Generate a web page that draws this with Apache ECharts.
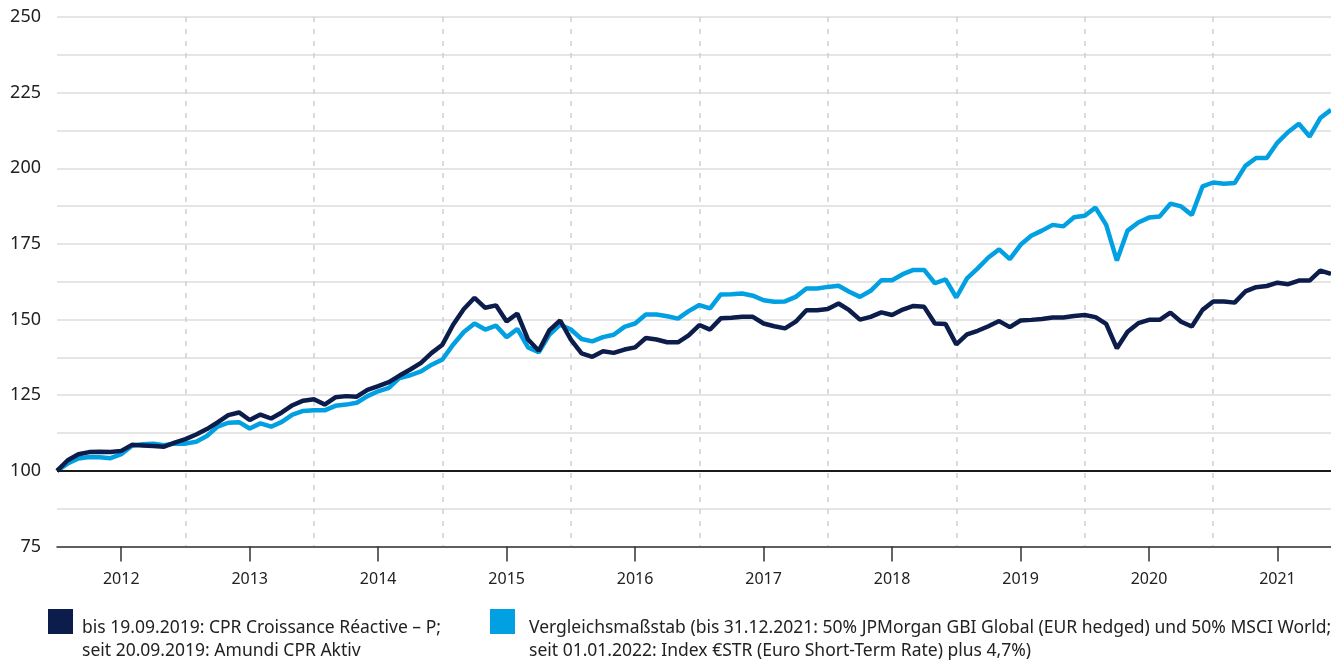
<!DOCTYPE html>
<html>
<head>
<meta charset="utf-8">
<script src="https://cdn.jsdelivr.net/npm/echarts@6/dist/echarts.min.js"></script>
<style>
html,body{margin:0;padding:0;background:#fff;}
#chart{width:1331px;height:660px;}
</style>
</head>
<body>
<div id="chart"></div>
<script>
// Monthly values, index 0 = start (Jan 2012) ... 119
const startYear = 2012;
const monthCount = 120;
const yearLabels = ['2012','2013','2014','2015','2016','2017','2018','2019','2020','2021'];

const fundName = 'bis 19.09.2019: CPR Croissance Réactive – P;\nseit 20.09.2019: Amundi CPR Aktiv';
const benchName = 'Vergleichsmaßstab (bis 31.12.2021: 50% JPMorgan GBI Global (EUR hedged) und 50% MSCI World;\nseit 01.01.2022: Index €STR (Euro Short-Term Rate) plus 4,7%)';

const fundValues = [
  100, 103.5, 105.5, 106.2, 106.3, 106.2, 106.6, 108.6, 108.4, 108.2, 108, 109.3,
  110.5, 112, 113.8, 116, 118.4, 119.3, 116.8, 118.6, 117.3, 119.3, 121.7, 123.2,
  123.7, 121.9, 124.3, 124.7, 124.5, 126.8, 128, 129.3, 131.5, 133.5, 135.7, 139,
  141.7, 148.3, 153.5, 157.2, 153.9, 154.7, 149.4, 152, 143.4, 139.7, 146.5, 149.7,
  143.4, 138.8, 137.7, 139.5, 139, 140.1, 140.8, 143.9, 143.4, 142.5, 142.5, 144.8,
  148.2, 146.7, 150.4, 150.6, 150.9, 150.9, 148.7, 147.8, 147.1, 149.3, 153.1, 153.1,
  153.5, 155.3, 153.1, 150, 150.9, 152.4, 151.5, 153.3, 154.5, 154.2, 148.7, 148.5,
  141.8, 145.1, 146.3, 147.8, 149.5, 147.5, 149.7, 149.9, 150.2, 150.7, 150.7, 151.2,
  151.5, 150.8, 148.6, 140.5, 146, 148.8, 149.9, 149.9, 152.3, 149.3, 147.7, 153.2,
  156, 156, 155.6, 159.3, 160.7, 161.1, 162.2, 161.7, 162.9, 162.9, 166.2, 165.1
];

const benchValues = [
  100, 102.4, 104.1, 104.6, 104.5, 104.2, 105.5, 108.3, 108.8, 109, 108.5, 109,
  109, 109.6, 111.5, 114.6, 115.9, 116.1, 114, 115.7, 114.6, 116.2, 118.6, 119.8,
  120, 120, 121.5, 121.9, 122.5, 124.7, 126.3, 127.4, 130.7, 131.6, 132.9, 135.1,
  136.8, 141.7, 145.9, 148.7, 146.7, 148, 144.2, 146.9, 140.8, 139.2, 145, 148.3,
  146.7, 143.6, 142.8, 144.2, 145, 147.6, 148.7, 151.7, 151.7, 151.1, 150.3, 152.8,
  154.8, 153.7, 158.3, 158.4, 158.6, 157.9, 156.4, 155.9, 156, 157.5, 160.3, 160.3,
  160.8, 161.2, 159.2, 157.5, 159.5, 163, 163, 165, 166.4, 166.4, 162, 163.3,
  157.3, 163.6, 166.9, 170.5, 173.2, 170, 174.7, 177.7, 179.4, 181.3, 180.8, 183.8,
  184.3, 187, 181.3, 169.5, 179.4, 182.1, 183.7, 184.1, 188.3, 187.4, 184.6, 194,
  195.3, 194.9, 195.1, 200.8, 203.4, 203.4, 208.5, 212, 214.7, 210.5, 216.6, 219.3
];

// month categories (labels only)
const categories = [];
for (let i = 0; i < monthCount; i++) {
  const y = startYear + Math.floor(i / 12);
  const m = (i % 12) + 1;
  categories.push(y + '-' + (m < 10 ? '0' + m : m));
}

const FONT = 'Noto Sans';
const navy = '#0c1d4b';
const blue = '#00a0e2';

const chart = echarts.init(document.getElementById('chart'));
const legendBase = {
  orient: 'vertical',
  top: 609,
  padding: 0,
  itemHeight: 62,
  itemStyle: { borderWidth: 0 },
  textStyle: { fontFamily: FONT, fontSize: 17.5, lineHeight: 23, color: '#222' },
  selectedMode: false
};
chart.setOption({
  animation: false,
  textStyle: { fontFamily: FONT },
  grid: { left: 57, right: 0, top: 17, bottom: 113.5, containLabel: false },
  legend: [
    Object.assign({}, legendBase, { left: 48, icon: 'path://M0 0H25V25H0Z M0 62H29V62H0Z', itemWidth: 29, data: [fundName] }),
    Object.assign({}, legendBase, { left: 490, icon: 'path://M0 0H25V25H0Z M0 62H34V62H0Z', itemWidth: 34, data: [benchName] })
  ],
  xAxis: {
    type: 'category',
    boundaryGap: false,
    data: categories,
    axisLine: { show: true, lineStyle: { color: '#333', width: 1.5 } },
    axisTick: {
      show: true,
      length: 15,
      interval: function (idx) { return idx % 12 === 6; },
      lineStyle: { color: '#333', width: 1.5 }
    },
    axisLabel: {
      interval: function (idx) { return idx % 12 === 6; },
      formatter: function (v, idx) { return yearLabels[Math.floor(idx / 12)]; },
      margin: 25,
      fontFamily: FONT,
      fontSize: 16,
      color: '#222'
    },
    splitLine: {
      show: true,
      interval: function (idx) { return idx > 0 && idx % 12 === 0; },
      lineStyle: { color: '#cfcfcf', width: 1.5, type: [5, 7] }
    }
  },
  yAxis: {
    type: 'value',
    min: 75,
    max: 250,
    interval: 12.5,
    axisLine: { show: false },
    axisTick: { show: false },
    axisLabel: {
      formatter: function (v) { return v % 25 === 0 ? String(v) : ''; },
      margin: 16,
      fontFamily: FONT,
      fontSize: 18,
      color: '#222'
    },
    splitLine: { show: true, lineStyle: { color: '#dcdcdc', width: 1.5 } }
  },
  series: [
    {
      name: benchName,
      type: 'line',
      data: benchValues,
      showSymbol: false,
      symbol: 'none',
      color: blue,
      lineStyle: { color: blue, width: 4.5 },
      markLine: {
        silent: true,
        symbol: 'none',
        label: { show: false },
        lineStyle: { color: '#1a1a1a', width: 2, type: 'solid' },
        data: [{ yAxis: 100 }]
      }
    },
    {
      name: fundName,
      type: 'line',
      data: fundValues,
      showSymbol: false,
      symbol: 'none',
      color: navy,
      lineStyle: { color: navy, width: 4.5 }
    }
  ]
});
</script>
</body>
</html>
